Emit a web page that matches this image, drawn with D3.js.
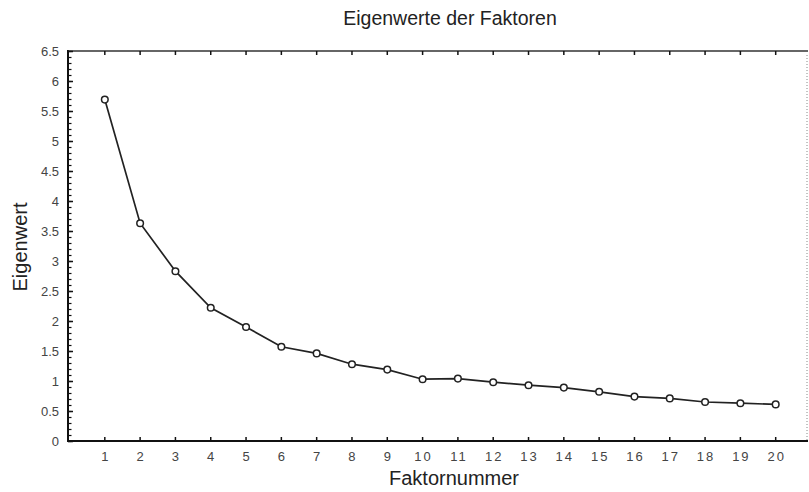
<!DOCTYPE html>
<html>
<head>
<meta charset="utf-8">
<script src="https://cdn.jsdelivr.net/npm/d3@7"></script>
<style>
  body { margin: 0; background: #fff; }
  svg { display: block; font-family: "Liberation Sans", Arial, sans-serif; }
</style>
</head>
<body>
<svg id="vis" width="809" height="492"></svg>
<script>
// scree plot data
const factors = d3.range(1, 21);
const eigenvalues = [5.69, 3.63, 2.83, 2.22, 1.90, 1.57, 1.46, 1.28, 1.19, 1.03,
                     1.04, 0.98, 0.93, 0.89, 0.82, 0.74, 0.71, 0.65, 0.63, 0.61];
const yTicks = d3.range(0, 6.51, 0.5);
const yMinor = d3.range(0, 6.51, 0.1);

const svg = d3.select("#vis");
const plotL = 68, plotT = 51, plotB = 441, plotR = 808;

const x = d3.scaleLinear().domain([0, 21]).range([69.5, 811]);
const y = d3.scaleLinear().domain([0, 6.5]).range([plotB, plotT]);

const fmt = d => (Math.round(d * 10) / 10).toString();

// frame: solid left, bottom and top, dotted right
svg.append("line").attr("x1", plotL).attr("x2", plotL).attr("y1", plotT - 1).attr("y2", plotB + 1)
  .attr("stroke", "#111").attr("stroke-width", 2);
svg.append("line").attr("x1", plotL).attr("x2", plotR).attr("y1", plotB).attr("y2", plotB)
  .attr("stroke", "#111").attr("stroke-width", 2);
svg.append("line").attr("x1", plotL).attr("x2", plotR).attr("y1", plotT).attr("y2", plotT)
  .attr("stroke", "#333").attr("stroke-width", 1.5);
svg.append("line").attr("x1", plotR - 1).attr("x2", plotR - 1).attr("y1", plotT + 4).attr("y2", plotB)
  .attr("stroke", "#888").attr("stroke-width", 1).attr("stroke-dasharray", "1,2");

// y axis ticks, pointing into the plot
svg.append("g").selectAll("line").data(yMinor).join("line")
  .attr("x1", plotL).attr("x2", plotL + 3.5)
  .attr("y1", d => Math.round(y(d)) + 0.5).attr("y2", d => Math.round(y(d)) + 0.5)
  .attr("stroke", "#111").attr("stroke-width", 1.2);
svg.append("g").selectAll("line").data(yTicks).join("line")
  .attr("x1", plotL).attr("x2", plotL + 5)
  .attr("y1", d => Math.round(y(d)) + 0.5).attr("y2", d => Math.round(y(d)) + 0.5)
  .attr("stroke", "#111").attr("stroke-width", 1.5);
svg.append("g").selectAll("text").data(yTicks).join("text")
  .attr("x", plotL - 9).attr("y", d => y(d) + 4.5)
  .attr("text-anchor", "end").attr("font-size", 13).attr("fill", "#444")
  .text(fmt);

// x axis ticks, bottom up and top down
svg.append("g").selectAll("line").data(factors).join("line")
  .attr("x1", d => x(d)).attr("x2", d => x(d))
  .attr("y1", plotB).attr("y2", plotB - 4)
  .attr("stroke", "#111").attr("stroke-width", 1.5);
svg.append("g").selectAll("line").data(factors).join("line")
  .attr("x1", d => x(d)).attr("x2", d => x(d))
  .attr("y1", plotT).attr("y2", plotT + 4)
  .attr("stroke", "#111").attr("stroke-width", 1.5);
svg.append("g").selectAll("text").data(factors).join("text")
  .attr("x", d => x(d) + (d >= 10 ? 1 : 0)).attr("y", 461)
  .attr("text-anchor", "middle").attr("font-size", 13).attr("fill", "#444")
  .attr("letter-spacing", d => d >= 10 ? 2 : 0)
  .text(d => d);

// line + markers
const pts = factors.map((f, i) => [f, eigenvalues[i]]);
svg.append("path").datum(pts)
  .attr("fill", "none").attr("stroke", "#222").attr("stroke-width", 1.7)
  .attr("d", d3.line().x(d => x(d[0])).y(d => y(d[1])));
svg.append("g").selectAll("circle").data(pts).join("circle")
  .attr("cx", d => x(d[0])).attr("cy", d => y(d[1])).attr("r", 3.3)
  .attr("fill", "#fff").attr("stroke", "#222").attr("stroke-width", 1.5);

// titles
svg.append("text").attr("x", 450).attr("y", 25)
  .attr("text-anchor", "middle").attr("font-size", 19.5).attr("fill", "#222")
  .text("Eigenwerte der Faktoren");
svg.append("text").attr("x", 454).attr("y", 485)
  .attr("text-anchor", "middle").attr("font-size", 20).attr("fill", "#222")
  .text("Faktornummer");
svg.append("text").attr("transform", "translate(27,247) rotate(-90)")
  .attr("text-anchor", "middle").attr("font-size", 20).attr("fill", "#222")
  .text("Eigenwert");
</script>
</body>
</html>
